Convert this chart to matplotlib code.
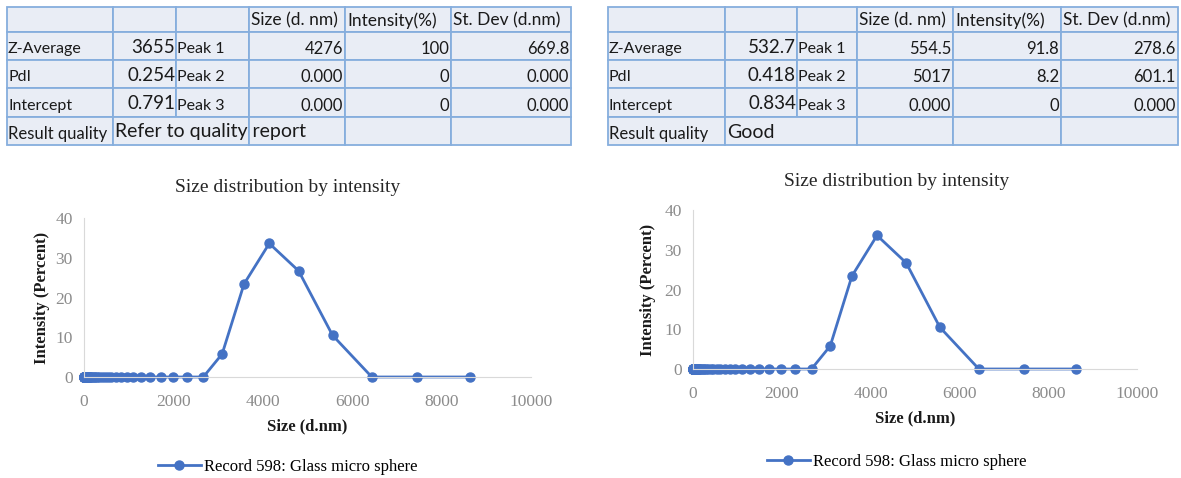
import matplotlib.pyplot as plt
from matplotlib.patches import Rectangle

# DLS size bins (d.nm) and intensity distribution for record 598
sizes = [0.4, 0.4632, 0.5365, 0.6213, 0.7195, 0.8332, 0.9649, 1.117, 1.294,
         1.499, 1.736, 2.010, 2.328, 2.696, 3.122, 3.615, 4.187, 4.849, 5.615,
         6.503, 7.531, 8.721, 10.10, 11.70, 13.54, 15.69, 18.17, 21.04, 24.36,
         28.21, 32.67, 37.84, 43.82, 50.75, 58.77, 68.06, 78.82, 91.28, 105.7,
         122.4, 141.8, 164.2, 190.1, 220.2, 255.0, 295.3, 342.0, 396.1, 458.7,
         531.2, 615.1, 712.4, 825.0, 955.4, 1106, 1281, 1484, 1718, 1990, 2305,
         2669, 3091, 3580, 4145, 4801, 5560, 6439, 7456, 8635]
intensity = [0.0] * 61 + [5.8, 23.4, 33.6, 26.7, 10.5, 0.0, 0.0, 0.0]

series_name = "Record 598: Glass micro sphere"

header = ["", "", "", "Size (d. nm)", "Intensity(%)", "St. Dev (d.nm)"]
row_names = ["Z-Average", "PdI", "Intercept"]
peak_names = ["Peak 1", "Peak 2", "Peak 3"]

left_summary = ["3655", "0.254", "0.791"]
left_peaks = [["4276", "100", "669.8"],
              ["0.000", "0", "0.000"],
              ["0.000", "0", "0.000"]]
left_quality = "Refer to quality report"

right_summary = ["532.7", "0.418", "0.834"]
right_peaks = [["554.5", "91.8", "278.6"],
               ["5017", "8.2", "601.1"],
               ["0.000", "0", "0.000"]]
right_quality = "Good"

W, H = 1181, 478
fig = plt.figure(figsize=(W / 100, H / 100), dpi=100)

# full-figure pixel canvas for the result tables
canvas = fig.add_axes([0, 0, 1, 1])
canvas.set_xlim(0, W)
canvas.set_ylim(H, 0)
canvas.axis("off")

FILL = "#E9EDF5"
EDGE = "#86AEDD"
TFONT = "Lato"
TCOLOR = "#1a1a1a"
rows_y = [7, 32, 60, 88, 117, 145]


def draw_table(cols, summary, peaks, quality):
    for r in range(5):
        for c in range(6):
            if r == 4 and c == 1:
                continue
            x0, x1 = cols[c], cols[c + 1]
            if r == 4 and c == 2:
                x0 = cols[1]
            canvas.add_patch(Rectangle((x0, rows_y[r]), x1 - x0, rows_y[r + 1] - rows_y[r],
                                       facecolor=FILL, edgecolor=EDGE, lw=1.3))
    # header row
    for c in range(3, 6):
        canvas.text(cols[c] + 2, (rows_y[0] + rows_y[1]) / 2 + 1, header[c],
                    fontsize=12.5, family=TFONT, va="center", ha="left", color=TCOLOR)
    for i in range(3):
        yc = (rows_y[i + 1] + rows_y[i + 2]) / 2 + 3
        canvas.text(cols[0] + 1, yc, row_names[i], fontsize=11.5, family=TFONT,
                    va="center", ha="left", color=TCOLOR)
        canvas.text(cols[2] - 1, yc - 2, summary[i], fontsize=13.5, family=TFONT,
                    va="center", ha="right", color=TCOLOR)
        canvas.text(cols[2] + 1, yc, peak_names[i], fontsize=11.5, family=TFONT,
                    va="center", ha="left", color=TCOLOR)
        for j in range(3):
            canvas.text(cols[j + 4] - 2, yc, peaks[i][j], fontsize=12, family=TFONT,
                        va="center", ha="right", color=TCOLOR)
    yq = (rows_y[4] + rows_y[5]) / 2 + 3
    canvas.text(cols[0] + 1, yq, "Result quality", fontsize=12, family=TFONT,
                va="center", ha="left", color=TCOLOR)
    canvas.text(cols[1] + 2, yq - 2, quality, fontsize=14, family=TFONT,
                va="center", ha="left", color=TCOLOR)


draw_table([7, 113, 176, 249, 345, 451, 571], left_summary, left_peaks, left_quality)
draw_table([608, 725, 797, 857, 953, 1061, 1178], right_summary, right_peaks, right_quality)


def px_axes(x0, x1, y0, y40):
    return fig.add_axes([x0 / W, (H - y0) / H, (x1 - x0) / W, (y0 - y40) / H])


def draw_chart(ax, title_y, xlabel_pad, ylabel_pad, legend_y, center_x):
    ax.plot(sizes, intensity, color="#4472C4", lw=2, marker="o", ms=6.5,
            label=series_name, clip_on=False)
    ax.set_xlim(0, 10000)
    ax.set_ylim(0, 40)
    ax.set_xticks(range(0, 10001, 2000))
    ax.set_yticks(range(0, 41, 10))
    ax.patch.set_alpha(0)
    for s in ["top", "right"]:
        ax.spines[s].set_visible(False)
    ax.spines["left"].set_color("#D9D9D9")
    ax.spines["bottom"].set_color("#D9D9D9")
    ax.tick_params(length=0, labelsize=12.5, labelcolor="#8C8C8C")
    ax.tick_params(axis="x", pad=12)
    ax.tick_params(axis="y", pad=8)
    for lab in ax.get_xticklabels() + ax.get_yticklabels():
        lab.set_family("Liberation Serif")
    ax.set_title("Size distribution by intensity", family="Liberation Serif",
                 fontsize=14, color="#262626", x=center_x, y=title_y)
    ax.set_xlabel("Size (d.nm)", family="Liberation Serif", fontsize=12,
                  fontweight="bold", color=TCOLOR, labelpad=xlabel_pad)
    ax.set_ylabel("Intensity (Percent)", family="Liberation Serif", fontsize=12,
                  fontweight="bold", color=TCOLOR, labelpad=ylabel_pad)
    ax.legend(loc="upper center", bbox_to_anchor=(center_x, legend_y), frameon=False,
              prop={"family": "Liberation Serif", "size": 12}, handlelength=2.6,
              handletextpad=0.2)


ax1 = px_axes(84, 531, 377, 218)
draw_chart(ax1, 1.11, 6, 4, -0.42, 0.456)

ax2 = px_axes(693, 1137, 369, 210)
draw_chart(ax2, 1.10, 6, 6, -0.44, 0.459)

fig.savefig("out.png", dpi=100)
